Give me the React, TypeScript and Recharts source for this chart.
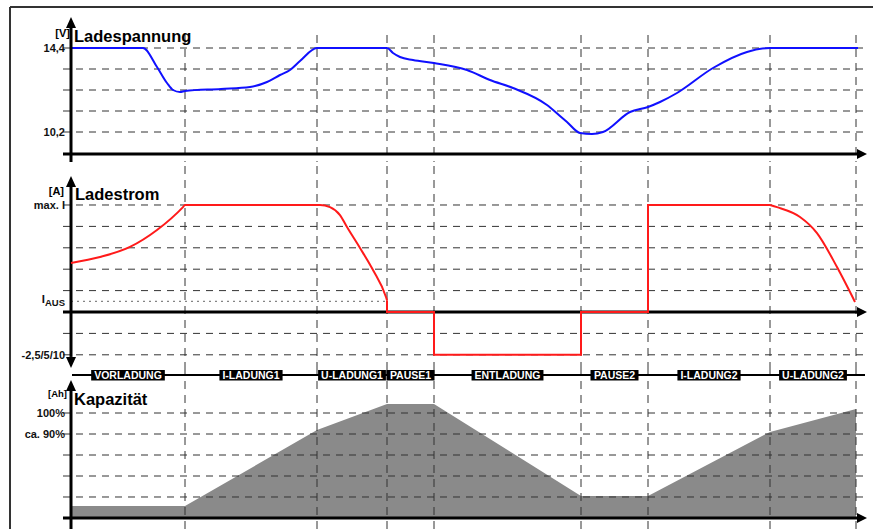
import React from "react";
import {
  ComposedChart, Line, Area, XAxis, YAxis, ReferenceLine, ReferenceDot,
} from "recharts";

// time axis: arbitrary units, 0 = y-axis
const phaseBounds = [0, 114, 246, 316, 363, 510, 577, 699, 785];
const phaseNames = [
  "VORLADUNG", "I-LADUNG1", "U-LADUNG1", "PAUSE1",
  "ENTLADUNG", "PAUSE2", "I-LADUNG2", "U-LADUNG2",
];

// Ladespannung [V]
const voltT = [0, 72, 86, 96, 102, 109, 114, 150, 179, 196, 209, 219, 229, 246, 316, 322, 329, 342, 363, 396, 419, 442, 476, 489, 496, 509, 521, 532, 559, 577, 589, 606, 642, 676, 699, 787];
const voltV = [14.4, 14.4, 13.45, 12.65, 12.3, 12.2, 12.25, 12.35, 12.45, 12.7, 13.05, 13.3, 13.75, 14.4, 14.4, 14.15, 13.95, 13.8, 13.65, 13.3, 12.8, 12.4, 11.55, 11.0, 10.7, 10.15, 10.1, 10.2, 11.2, 11.45, 11.7, 12.15, 13.4, 14.2, 14.4, 14.4];
const voltGrid = [14.4, 13.35, 12.3, 11.25, 10.2];
const voltTicks = [14.4, 10.2];
const voltTickText = ["14,4", "10,2"];

// Ladestrom (grid steps, max. I = 5)
const ampT = [0, 29, 59, 86, 112, 114, 249, 259, 269, 276, 289, 302, 315, 316, 316, 363, 363, 510, 510, 577, 577, 699, 706, 729, 746, 766, 784];
const ampV = [2.29, 2.57, 3.04, 3.83, 4.9, 5, 5, 4.9, 4.53, 3.97, 2.99, 1.96, 0.7, 0.55, 0, 0, -2, -2, 0, 0, 5, 5, 4.9, 4.44, 3.69, 2.1, 0.47];
const ampGrid = [5, 4, 3, 2, 1, -1, -2];
const ampTicks = [5, 0.5, -2];
const ampTickText = ["max. I", "I_AUS", "-2,5/5/10"];
const ampOff = 0.5;
// index ranges: smooth curves vs. steps
const ampSmooth1 = [0, 14];
const ampSteps = [13, 22];
const ampSmooth2 = [21, 27];

// Kapazität (grid steps, 100% = 5)
const capT = [1, 114, 246, 316, 363, 510, 577, 699, 785];
const capV = [0.57, 0.57, 4.19, 5.43, 5.43, 1.05, 1.05, 4.1, 5.19];
const capGrid = [5, 4, 3, 2, 1];
const capTicks = [5, 4];
const capTickText = ["100%", "ca. 90%"];

const W = 873;
const T_DOMAIN: [number, number] = [-8, 797];
const AXIS_END = 787;
const ARROW_TIP = 796;
const FONT = "'Liberation Sans', Arial, sans-serif";
const GRID_COLOR = "#333";

const toRows = (t: number[], v: number[]) => t.map((x, i) => ({ t: x, v: v[i] }));
const voltData = toRows(voltT, voltV);
const ampData = toRows(ampT, ampV);
const capData = toRows(capT, capV);
const phaseMids = phaseNames.map((n, i) => ({ name: n, t: (phaseBounds[i] + phaseBounds[i + 1]) / 2 }));

const charW: Record<string, number> = {
  A: 7.22, D: 7.22, E: 6.67, G: 7.78, I: 2.78, L: 6.11, N: 7.22, O: 7.78,
  P: 6.67, R: 7.22, S: 6.67, T: 6.11, U: 7.22, V: 6.67, "-": 3.33,
};
const textW = (s: string, size: number) =>
  s.split("").reduce((a, c) => a + (charW[c] ?? 5.56), 0) * size / 10;

const makeTick = (vals: number[], texts: string[]) => (p: any) => {
  const i = vals.indexOf(p.payload.value);
  if (i < 0) return <g />;
  const s = texts[i];
  const common = { fontFamily: FONT, fontWeight: "bold" as const, fill: "#111" };
  if (s === "I_AUS") {
    return (
      <text x={p.x + 2} y={p.y + 2} textAnchor="end" {...common} fontSize={11.5}>
        I<tspan fontSize={9.5} dy={3}>AUS</tspan>
      </text>
    );
  }
  return (
    <text x={p.x + 2} y={p.y + 4} textAnchor="end" {...common} fontSize={11}>{s}</text>
  );
};

const arrowUp = (p: any) => (
  <polygon points={`${p.cx},${p.cy} ${p.cx - 5},${p.cy + 11} ${p.cx + 5},${p.cy + 11}`} fill="#000" />
);
const arrowDown = (p: any) => (
  <polygon points={`${p.cx},${p.cy} ${p.cx - 5},${p.cy - 11} ${p.cx + 5},${p.cy - 11}`} fill="#000" />
);
const arrowRight = (p: any) => (
  <polygon points={`${p.cx},${p.cy} ${p.cx - 10},${p.cy - 5} ${p.cx - 10},${p.cy + 5}`} fill="#000" />
);
const phaseLabel = (name: string) => (p: any) => {
  const w = textW(name, 10.5) + 6;
  return (
    <g>
      <rect x={p.cx - w / 2} y={p.cy - 5.5} width={w} height={11} fill="#000" />
      <text x={p.cx} y={p.cy + 4} textAnchor="middle" fill="#fff" fontSize={10.5}
        fontWeight="bold" fontFamily={FONT}>{name}</text>
    </g>
  );
};

const gridLines = (vals: number[]) =>
  vals.map((v) => (
    <ReferenceLine key={"g" + v} y={v} stroke={GRID_COLOR} strokeDasharray="7 6" />
  ));

const ampLine = (range: number[], type: "monotone" | "linear", key: string) => (
  <Line key={key} data={ampData.slice(range[0], range[1])} dataKey="v" type={type}
    stroke="#ff1a1a" strokeWidth={2} dot={false} activeDot={false} isAnimationActive={false} />
);

const box = (top: number, height: number): React.CSSProperties => ({
  position: "absolute", left: 0, top, width: W, height,
});

export default function App() {
  return (
    <div style={{ position: "absolute", left: 0, top: 0, width: W, height: 529, background: "#fff", overflow: "hidden" }}>
      {/* Ladespannung */}
      <div style={box(0, 166)}>
        <ComposedChart width={W} height={166} margin={{ top: 16, right: 5, bottom: 4, left: 0 }}>
          <XAxis type="number" dataKey="t" domain={T_DOMAIN} hide allowDataOverflow />
          <YAxis type="number" domain={[8.7, 16]} allowDataOverflow ticks={voltTicks}
            tick={makeTick(voltTicks, voltTickText)} axisLine={false} tickLine={false}
            tickSize={0} tickMargin={0} width={63} interval={0} />
          {gridLines(voltGrid)}
          {phaseBounds.slice(1).map((b) => (
            <ReferenceLine key={"p" + b} segment={[{ x: b, y: 15.05 }, { x: b, y: 8.7 }]}
              stroke={GRID_COLOR} strokeDasharray="8 6" />
          ))}
          <Line data={voltData} dataKey="v" type="monotone" stroke="#1010ff" strokeWidth={2}
            dot={false} activeDot={false} isAnimationActive={false} />
          <ReferenceLine segment={[{ x: 0, y: 8.7 }, { x: 0, y: 15.4 }]} stroke="#000" strokeWidth={3} />
          <ReferenceLine segment={[{ x: -8, y: 9.1 }, { x: AXIS_END, y: 9.1 }]} stroke="#000" strokeWidth={3} />
          <ReferenceDot x={0} y={15.95} r={1} shape={arrowUp} />
          <ReferenceDot x={ARROW_TIP} y={9.1} r={1} shape={arrowRight} />
        </ComposedChart>
      </div>

      {/* Ladestrom */}
      <div style={box(166, 204)}>
        <ComposedChart width={W} height={204} margin={{ top: 0, right: 5, bottom: 0, left: 0 }}>
          <XAxis type="number" dataKey="t" domain={T_DOMAIN} hide allowDataOverflow />
          <YAxis type="number" domain={[-2.71, 6.822]} allowDataOverflow ticks={ampTicks}
            tick={makeTick(ampTicks, ampTickText)} axisLine={false} tickLine={false}
            tickSize={0} tickMargin={0} width={63} interval={0} />
          {gridLines(ampGrid)}
          {phaseBounds.slice(1).map((b) => (
            <ReferenceLine key={"p" + b} x={b} stroke={GRID_COLOR} strokeDasharray="8 6" />
          ))}
          <ReferenceLine segment={[{ x: 0, y: ampOff }, { x: 316, y: ampOff }]}
            stroke="#666" strokeDasharray="2 4" />
          <ReferenceLine segment={[{ x: 0, y: -2.1 }, { x: 0, y: 5.84 }]} stroke="#000" strokeWidth={3} />
          <ReferenceLine segment={[{ x: -8, y: 0 }, { x: AXIS_END, y: 0 }]} stroke="#000" strokeWidth={3} />
          {ampLine(ampSmooth1, "monotone", "a1")}
          {ampLine(ampSteps, "linear", "a2")}
          {ampLine(ampSmooth2, "monotone", "a3")}
          <ReferenceDot x={0} y={6.36} r={1} shape={arrowUp} />
          <ReferenceDot x={0} y={-2.62} r={1} shape={arrowDown} />
          <ReferenceDot x={ARROW_TIP} y={0} r={1} shape={arrowRight} />
        </ComposedChart>
      </div>

      {/* Kapazität */}
      <div style={box(370, 159)}>
        <ComposedChart width={W} height={159} margin={{ top: 0, right: 5, bottom: 0, left: 0 }}>
          <XAxis type="number" dataKey="t" domain={T_DOMAIN} hide allowDataOverflow />
          <YAxis type="number" domain={[-0.524, 7.048]} allowDataOverflow ticks={capTicks}
            tick={makeTick(capTicks, capTickText)} axisLine={false} tickLine={false}
            tickSize={0} tickMargin={0} width={63} interval={0} />
          <Area data={capData} dataKey="v" type="linear" baseValue={0} fill="#8a8a8a"
            fillOpacity={1} stroke="none" dot={false} activeDot={false} isAnimationActive={false} />
          {gridLines(capGrid)}
          {phaseBounds.slice(1).map((b) => (
            <ReferenceLine key={"p" + b} x={b} stroke={GRID_COLOR} strokeDasharray="8 6" />
          ))}
          <ReferenceLine segment={[{ x: 0, y: -0.524 }, { x: 0, y: 6.05 }]} stroke="#000" strokeWidth={3} />
          <ReferenceLine segment={[{ x: -8, y: 0 }, { x: AXIS_END, y: 0 }]} stroke="#000" strokeWidth={3} />
          <ReferenceLine segment={[{ x: 1, y: 6.81 }, { x: 794, y: 6.81 }]} stroke="#000" strokeWidth={2} />
          <ReferenceDot x={0} y={6.57} r={1} shape={arrowUp} />
          <ReferenceDot x={ARROW_TIP} y={0} r={1} shape={arrowRight} />
          {phaseMids.map((p) => (
            <ReferenceDot key={p.name} x={p.t} y={6.81} r={1} shape={phaseLabel(p.name)} />
          ))}
        </ComposedChart>
      </div>

      {/* frame and titles */}
      <svg width={W} height={529} style={{ position: "absolute", left: 0, top: 0, pointerEvents: "none" }}>
        <line x1={10} y1={7} x2={W} y2={7} stroke="#333" strokeWidth={2} />
        <line x1={10} y1={7} x2={10} y2={529} stroke="#333" strokeWidth={2} />
        <g fontFamily={FONT} fontWeight="bold" fill="#000">
          <text x={70} y={37} fontSize={11} textAnchor="end">[V]</text>
          <text x={74} y={42} fontSize={16.5}>Ladespannung</text>
          <text x={64} y={195} fontSize={11} textAnchor="end">[A]</text>
          <text x={75} y={200} fontSize={16.5}>Ladestrom</text>
          <text x={67} y={397} fontSize={9.5} textAnchor="end">[Ah]</text>
          <text x={74} y={405} fontSize={16.5}>Kapazität</text>
        </g>
      </svg>
    </div>
  );
}
